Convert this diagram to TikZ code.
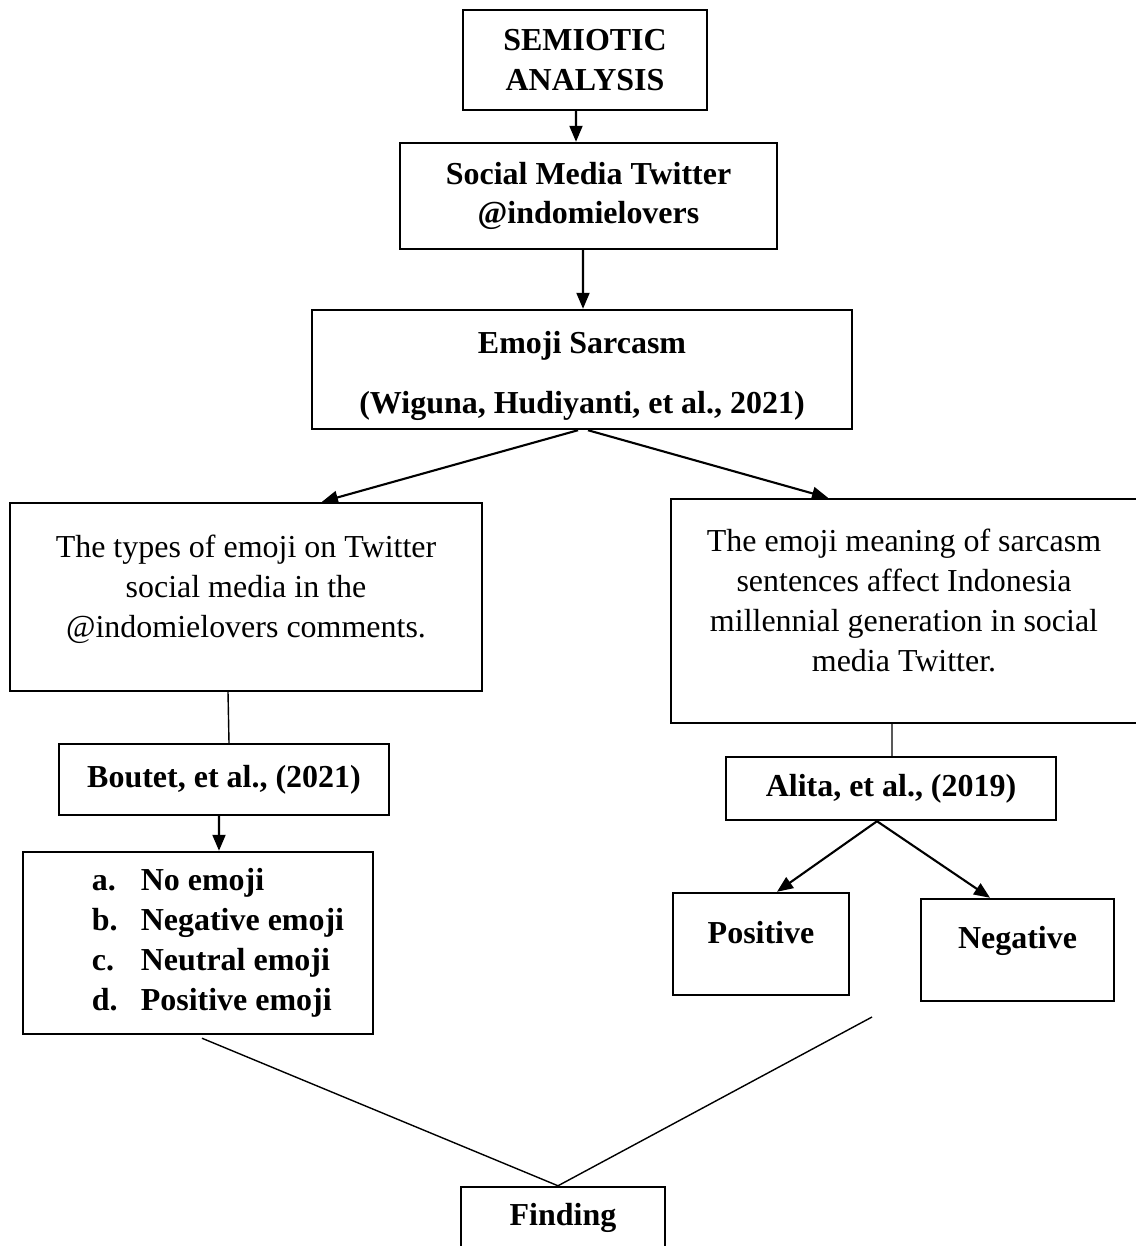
\documentclass[tikz,border=0pt]{standalone}
\usepackage{fontspec}
\setmainfont{Liberation Serif}
\usetikzlibrary{arrows.meta}

\newcommand{\lift}[2]{\raisebox{0pt}[\height][\dimexpr\depth+#1\relax]{\begin{tabular}{@{}c@{}}#2\end{tabular}}}
\newcommand{\listline}[2]{\hspace*{0.8cm}\makebox[0.98cm][l]{#1}#2}

\begin{document}
\begin{tikzpicture}[x=0.02cm, y=-0.02cm,
    box/.style 2 args={draw, line width=1.4pt, align=center, inner sep=0pt,
        minimum width=#1*0.02cm, minimum height=#2*0.02cm,
        font=\fontsize{18.2}{22.7}\selectfont\bfseries},
    plain/.style={font=\fontsize{18.2}{22.7}\selectfont},
    arr/.style={line width=1.2pt, -{Triangle[length=0.32cm, width=0.26cm]}},
    thin/.style={line width=0.8pt}]
    \useasboundingbox (0,0) rectangle (1135,1246);

    % 上方方框
    \node[box={244}{100}] (semiotic) at (585,60) {SEMIOTIC\\ANALYSIS};
    \node[box={377}{106}] (social) at (588.5,196) {Social Media Twitter\\@indomielovers};
    \node[box={540}{119}] (sarcasm) at (582,369.5) {\lift{-0.24cm}{Emoji Sarcasm\\[0.42cm](Wiguna, Hudiyanti, et al., 2021)}};

    % 左右两个问题
    \node[box={472}{188}, plain] (types) at (246,597) {\lift{0.3cm}{The types of emoji on Twitter\\social media in the\\@indomielovers comments.}};
    \node[box={466}{224}, plain] (meaning) at (904,611) {\lift{0.3cm}{The emoji meaning of sarcasm\\sentences affect Indonesia\\millennial generation in social\\media Twitter.}};

    % 理论来源
    \node[box={330}{71}] (boutet) at (224,779.5) {Boutet, et al., (2021)};
    \node[box={330}{63}] (alita) at (891,788.5) {Alita, et al., (2019)};

    % 分类
    \node[box={350}{182}, align=left] (list) at (198,943) {\listline{a.}{No emoji}\\\listline{b.}{Negative emoji}\\\listline{c.}{Neutral emoji}\\\listline{d.}{Positive emoji}};
    \node[box={176}{102}] (positive) at (761,944) {\lift{0.34cm}{Positive}};
    \node[box={193}{102}] (negative) at (1017.5,950) {\lift{0.38cm}{Negative}};

    % 结果
    \node[box={204}{62}] (finding) at (563,1218) {Finding};
    \coordinate (rightend) at (872,1017);

    % 箭头
    \draw[arr] ([xshift=-0.18cm]semiotic.south) -- ([xshift=-0.25cm]social.north);
    \draw[arr] ([xshift=-0.11cm]social.south) -- ([xshift=0.02cm]sarcasm.north);
    \draw[arr] ([xshift=-0.08cm]sarcasm.south) -- ([xshift=1.52cm]types.north);
    \draw[arr] ([xshift=0.12cm]sarcasm.south) -- ([xshift=-1.52cm]meaning.north);
    \draw[arr] ([xshift=-0.1cm]boutet.south) -- ([xshift=0.42cm]list.north);
    \draw[arr] ([xshift=-0.28cm]alita.south) -- ([xshift=0.32cm]positive.north);
    \draw[arr] ([xshift=-0.28cm]alita.south) -- ([xshift=-0.55cm]negative.north);

    % 连线
    \draw[thin] ([xshift=-0.36cm]types.south) -- ([xshift=0.1cm]boutet.north);
    \draw[thin] ([xshift=-0.24cm]meaning.south) -- ([xshift=0.02cm]alita.north);
    \draw[thin] ([xshift=0.08cm, yshift=-0.06cm]list.south) -- ([xshift=-0.1cm]finding.north);
    \draw[thin] (rightend) -- ([xshift=-0.1cm]finding.north);
\end{tikzpicture}
\end{document}
